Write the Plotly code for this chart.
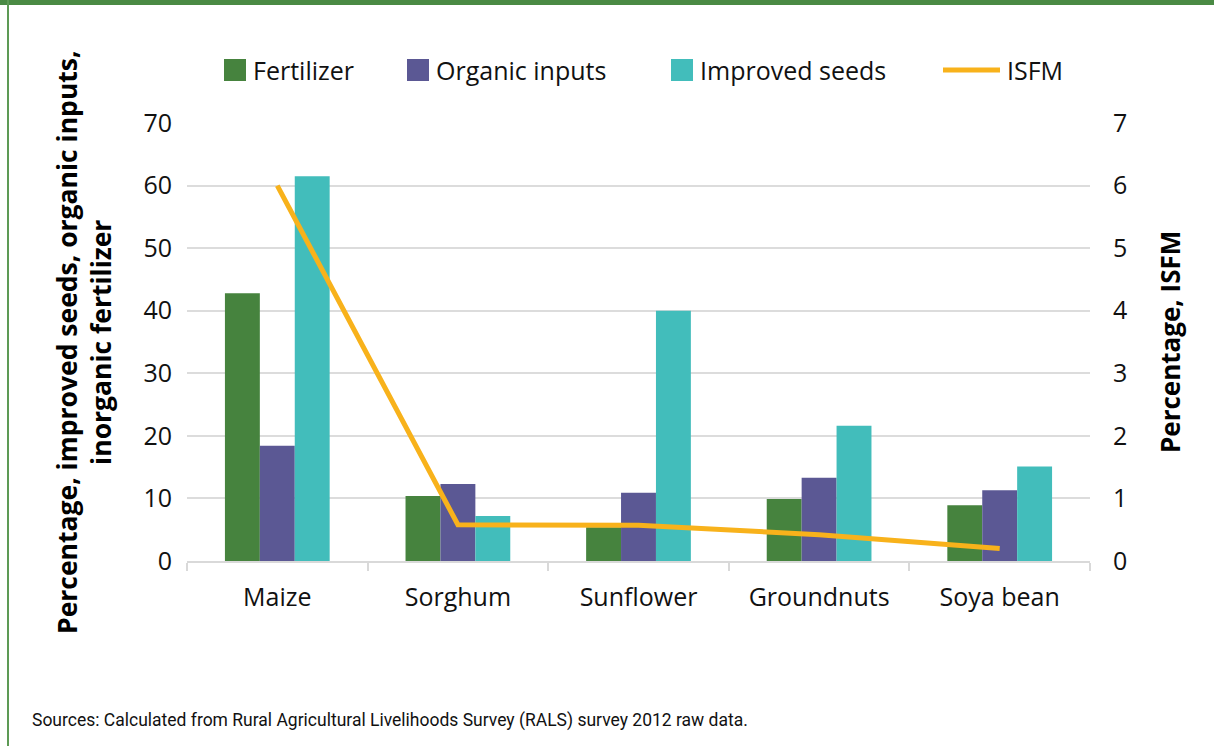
import plotly.graph_objects as go

categories = ["Maize", "Sorghum", "Sunflower", "Groundnuts", "Soya bean"]
fertilizer = [42.8, 10.4, 5.4, 9.9, 8.9]
organic_inputs = [18.4, 12.3, 10.9, 13.3, 11.3]
improved_seeds = [61.5, 7.2, 40.0, 21.6, 15.1]
isfm = [6.0, 0.58, 0.57, 0.42, 0.2]
left_ticks = [0, 10, 20, 30, 40, 50, 60, 70]
right_ticks = [0, 1, 2, 3, 4, 5, 6, 7]

C_FERT = "#46833e"
C_ORG = "#5b5894"
C_SEED = "#42bdbb"
C_ISFM = "#f8b21b"
FONT = "Open Sans"
TXT = "#111111"
FS = 25

W, H = 1214, 746
L, R, T, B = 187, 1090, 123, 561


def px(xp):
    return (xp - L) / (R - L)


def py(yp):
    return (B - yp) / (B - T)


fig = go.Figure()
fig.add_bar(x=categories, y=fertilizer, name="Fertilizer", marker_color=C_FERT, marker_line_width=0)
fig.add_bar(x=categories, y=organic_inputs, name="Organic inputs", marker_color=C_ORG, marker_line_width=0)
fig.add_bar(x=categories, y=improved_seeds, name="Improved seeds", marker_color=C_SEED, marker_line_width=0)
fig.add_scatter(x=categories, y=isfm, name="ISFM", mode="lines", yaxis="y2",
                line=dict(color=C_ISFM, width=5))

fig.update_layout(
    width=W, height=H,
    margin=dict(l=L, r=W - R, t=T, b=H - B, pad=0),
    paper_bgcolor="white", plot_bgcolor="white",
    barmode="group", bargap=0.42, bargroupgap=0,
    showlegend=False,
    font=dict(family=FONT, size=FS, color=TXT),
    xaxis=dict(type="category", showgrid=False, showline=True, linecolor="#d9d9d9", linewidth=2,
               ticks="outside", tickson="boundaries", ticklen=8, tickcolor="#d9d9d9", tickwidth=2,
               tickfont=dict(size=FS, family=FONT, color=TXT), ticklabelstandoff=13),
    yaxis=dict(range=[0, 70], tickvals=left_ticks, showgrid=True, gridcolor="#dcdcdc", gridwidth=2,
               zeroline=False, showline=False, ticks="", tickfont=dict(size=FS, family=FONT, color=TXT),
               ticklabelstandoff=14),
    yaxis2=dict(range=[0, 7], tickvals=right_ticks, overlaying="y", side="right", showgrid=False,
                zeroline=False, showline=False, ticks="", tickfont=dict(size=FS, family=FONT, color=TXT),
                ticklabelstandoff=22),
)

shapes = []
annotations = []
# border
shapes.append(dict(type="rect", xref="paper", yref="paper", x0=px(0), x1=px(W), y0=py(0), y1=py(5),
                   fillcolor="#4a8a44", line_width=0, layer="above"))
shapes.append(dict(type="line", xref="paper", yref="paper", x0=px(8), x1=px(8), y0=py(0), y1=py(H),
                   line=dict(color="#5d9a55", width=2)))

# legend
leg_y = 70
legend_items = [("Fertilizer", C_FERT, 224, "box"), ("Organic inputs", C_ORG, 407, "box"),
                ("Improved seeds", C_SEED, 671, "box"), ("ISFM", C_ISFM, 943, "line")]
for name, col, x0, kind in legend_items:
    if kind == "box":
        shapes.append(dict(type="rect", xref="paper", yref="paper", x0=px(x0), x1=px(x0 + 22),
                           y0=py(leg_y + 11), y1=py(leg_y - 11), fillcolor=col, line_width=0))
        tx = x0 + 27
    else:
        shapes.append(dict(type="line", xref="paper", yref="paper", x0=px(x0), x1=px(x0 + 57),
                           y0=py(leg_y), y1=py(leg_y), line=dict(color=col, width=5)))
        tx = x0 + 62
    annotations.append(dict(text=name, xref="paper", yref="paper", x=px(tx), y=py(leg_y),
                            xanchor="left", yanchor="middle", showarrow=False,
                            font=dict(size=FS, family=FONT, color=TXT)))

# axis titles
annotations.append(dict(text="<b>Percentage, improved seeds, organic inputs,<br>inorganic fertilizer</b>",
                        xref="paper", yref="paper", x=px(84), y=py(342), textangle=-90,
                        xanchor="center", yanchor="middle", showarrow=False,
                        font=dict(size=26.5, family=FONT, color="#000000")))
annotations.append(dict(text="<b>Percentage, ISFM</b>",
                        xref="paper", yref="paper", x=px(1170), y=py(342), textangle=-90,
                        xanchor="center", yanchor="middle", showarrow=False,
                        font=dict(size=26, family=FONT, color="#000000")))
# source
annotations.append(dict(text="Sources: Calculated from Rural Agricultural Livelihoods Survey (RALS) survey 2012 raw data.",
                        xref="paper", yref="paper", x=px(30), y=py(720),
                        xanchor="left", yanchor="middle", showarrow=False,
                        font=dict(size=17.5, family="Liberation Sans Narrow, Roboto", color=TXT)))

fig.update_layout(shapes=shapes, annotations=annotations)
fig.write_html("out.html", config={"displayModeBar": False},
               post_script="document.body.style.margin='0px';document.body.style.overflow='hidden';")
